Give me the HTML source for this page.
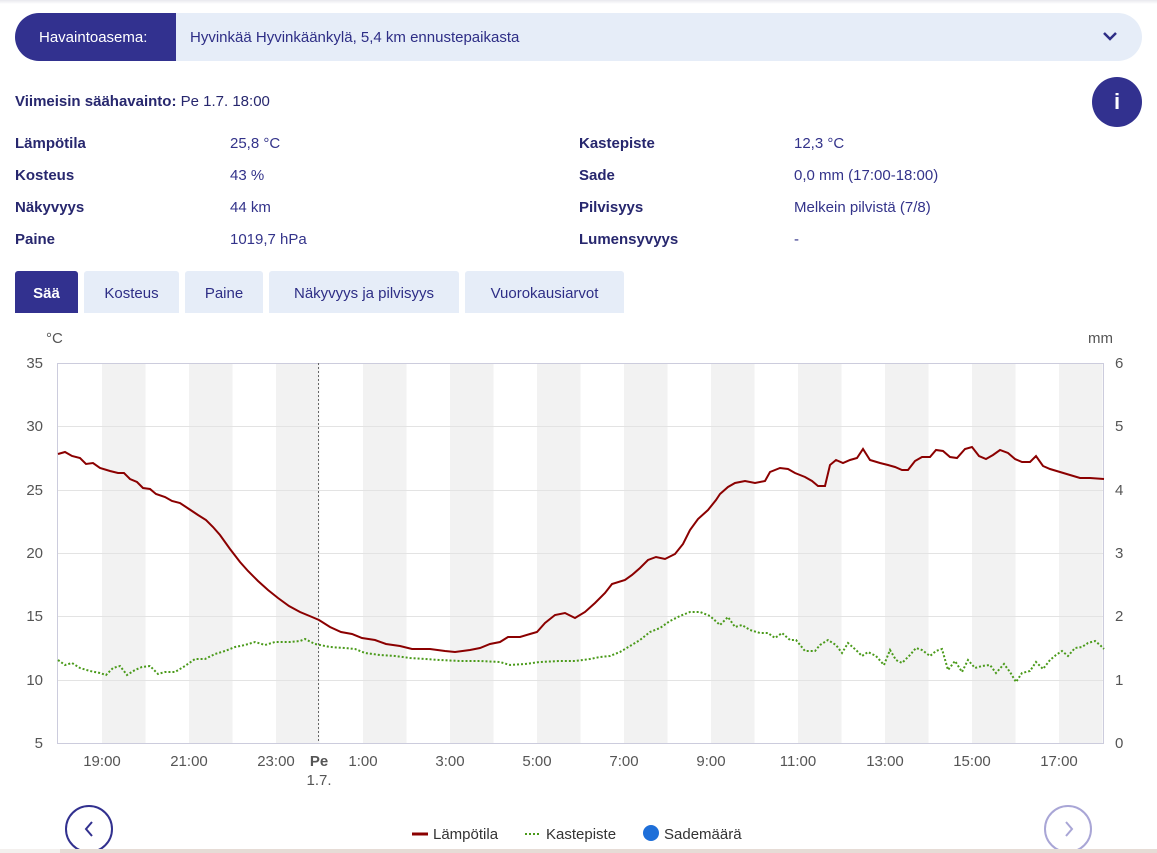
<!DOCTYPE html>
<html><head><meta charset="utf-8"><style>
body{margin:0;width:1157px;height:853px;overflow:hidden;background:#fff;font-family:"Liberation Sans",sans-serif;position:relative}
.a{position:absolute;white-space:nowrap}
.lb{font-weight:bold;color:#27276e;font-size:15px}
.v{color:#33338a;font-size:15px}
.tab{position:absolute;top:271px;height:42px;background:#e6edf8;color:#2e2e86;font-size:15px;line-height:46px;text-align:center;border-radius:3px 3px 0 0}
</style></head><body>
<div class="a" style="left:0;top:0;width:1157px;height:4px;background:linear-gradient(#e8e8ee,#fff)"></div>
<div class="a" style="left:15px;top:13px;width:1127px;height:48px;border-radius:24px;background:#e6edf8;overflow:hidden">
<div class="a" style="left:0;top:0;width:161px;height:48px;background:#32318f;color:#fff;font-size:15px;line-height:50px;text-indent:24px">Havaintoasema:</div>
<div class="a" style="left:175px;top:0;line-height:50px;font-size:15px;color:#2e2e86">Hyvinkää Hyvinkäänkylä, 5,4 km ennustepaikasta</div>
<svg class="a" style="left:1087px;top:17px" width="16" height="12"><path d="M2 3 L8 9 L14 3" stroke="#2e2e86" stroke-width="2.5" fill="none"/></svg>
</div>
<div class="a" style="left:15px;top:93px;font-size:15px;color:#27276e"><b>Viimeisin säähavainto:</b> Pe 1.7. 18:00</div>
<div class="a" style="left:1092px;top:77px;width:50px;height:50px;border-radius:25px;background:#32318f;color:#fff;font-weight:bold;font-size:22px;text-align:center;line-height:50px">i</div>
<div class="a lb" style="left:15px;top:135px">Lämpötila</div><div class="a v" style="left:230px;top:135px">25,8 °C</div>
<div class="a lb" style="left:15px;top:167px">Kosteus</div><div class="a v" style="left:230px;top:167px">43 %</div>
<div class="a lb" style="left:15px;top:199px">Näkyvyys</div><div class="a v" style="left:230px;top:199px">44 km</div>
<div class="a lb" style="left:15px;top:231px">Paine</div><div class="a v" style="left:230px;top:231px">1019,7 hPa</div>
<div class="a lb" style="left:579px;top:135px">Kastepiste</div><div class="a v" style="left:794px;top:135px">12,3 °C</div>
<div class="a lb" style="left:579px;top:167px">Sade</div><div class="a v" style="left:794px;top:167px">0,0 mm (17:00-18:00)</div>
<div class="a lb" style="left:579px;top:199px">Pilvisyys</div><div class="a v" style="left:794px;top:199px">Melkein pilvistä (7/8)</div>
<div class="a lb" style="left:579px;top:231px">Lumensyvyys</div><div class="a v" style="left:794px;top:231px">-</div>
<div class="tab" style="left:15px;width:63px;background:#32318f;color:#fff;font-weight:bold">Sää</div>
<div class="tab" style="left:84px;width:95px">Kosteus</div>
<div class="tab" style="left:185px;width:78px">Paine</div>
<div class="tab" style="left:269px;width:190px">Näkyvyys ja pilvisyys</div>
<div class="tab" style="left:465px;width:159px">Vuorokausiarvot</div>
<svg class="a" style="left:0;top:0" width="1157" height="853" font-family="Liberation Sans, sans-serif">
<g fill="#f2f2f2">
<rect x="102" y="363" width="43.5" height="380"/><rect x="189" y="363" width="43.5" height="380"/><rect x="276" y="363" width="43.5" height="380"/><rect x="363" y="363" width="43.5" height="380"/><rect x="450" y="363" width="43.5" height="380"/><rect x="537" y="363" width="43.5" height="380"/><rect x="624" y="363" width="43.5" height="380"/><rect x="711" y="363" width="43.5" height="380"/><rect x="798" y="363" width="43.5" height="380"/><rect x="885" y="363" width="43.5" height="380"/><rect x="972" y="363" width="43.5" height="380"/><rect x="1059" y="363" width="43.5" height="380"/>
</g>
<g stroke="#e3e3e3" stroke-width="1">
<line x1="58" x2="1104" y1="363.5" y2="363.5"/><line x1="58" x2="1104" y1="426.5" y2="426.5"/><line x1="58" x2="1104" y1="490.5" y2="490.5"/><line x1="58" x2="1104" y1="553.5" y2="553.5"/><line x1="58" x2="1104" y1="616.5" y2="616.5"/><line x1="58" x2="1104" y1="680.5" y2="680.5"/>
</g>
<rect x="57.5" y="363.5" width="1046" height="380" fill="none" stroke="#ccd" />
<line x1="318.5" x2="318.5" y1="363" y2="743" stroke="#666" stroke-dasharray="2,2"/>
<g font-size="15" fill="#555" text-anchor="end">
<text x="43" y="368">35</text><text x="43" y="431">30</text><text x="43" y="495">25</text><text x="43" y="558">20</text><text x="43" y="621">15</text><text x="43" y="685">10</text><text x="43" y="748">5</text>
</g>
<g font-size="15" fill="#555">
<text x="1115" y="368">6</text><text x="1115" y="431">5</text><text x="1115" y="495">4</text><text x="1115" y="558">3</text><text x="1115" y="621">2</text><text x="1115" y="685">1</text><text x="1115" y="748">0</text>
<text x="46" y="343">°C</text><text x="1088" y="343">mm</text>
</g>
<g font-size="15" fill="#555" text-anchor="middle">
<text x="102" y="766">19:00</text><text x="189" y="766">21:00</text><text x="276" y="766">23:00</text><text x="319" y="766" font-weight="bold">Pe</text><text x="319" y="785">1.7.</text><text x="363" y="766">1:00</text><text x="450" y="766">3:00</text><text x="537" y="766">5:00</text><text x="624" y="766">7:00</text><text x="711" y="766">9:00</text><text x="798" y="766">11:00</text><text x="885" y="766">13:00</text><text x="972" y="766">15:00</text><text x="1059" y="766">17:00</text>
</g>
<polyline fill="none" stroke="#4a9a1a" stroke-width="2" stroke-dasharray="2,2" points="58,660 65,665 72,663 80,668 90,671 100,673 106,675 113,668 120,666 127,675 135,670 142,667 150,666 158,674 165,672 175,672 185,666 195,659 205,659 215,654 225,651 235,647 245,645 255,642 265,645 275,642 290,642 300,641 305,639 315,644 330,647 345,648 355,649 365,653 380,655 395,656 410,658 425,659 440,660 460,661 480,661 500,662 510,665 525,664 540,662 560,661 575,661 590,659 600,657 610,656 620,652 630,646 640,640 650,632 660,628 670,621 680,616 690,612 700,612 710,616 720,625 728,617 735,627 742,625 750,630 760,633 768,633 775,638 782,633 790,640 796,640 805,651 815,651 820,645 828,640 836,645 842,653 848,643 856,650 862,656 868,652 876,656 884,665 890,650 896,660 902,663 910,655 916,648 922,650 930,656 936,651 942,649 948,670 955,661 962,672 968,660 975,668 982,666 990,665 996,673 1004,664 1010,672 1016,682 1022,673 1030,671 1036,662 1043,669 1050,660 1056,655 1062,651 1068,656 1075,648 1082,647 1088,643 1095,641 1100,645 1104,649"/>
<polyline fill="none" stroke="#8b0000" stroke-width="2" points="58,454 65,452 72,456 80,458 86,464 93,463 100,468 110,471 118,473 124,473 130,479 137,482 143,488 150,489 156,494 165,497 172,501 180,503 189,509 198,515 206,520 213,527 220,535 230,549 240,562 248,571 258,581 268,590 278,598 289,606 300,612 312,617 319,620 330,627 341,632 352,634 362,638 375,640 386,644 400,646 412,649 430,649 445,651 455,652 470,650 480,648 490,644 500,642 508,637 520,637 530,634 537,632 545,623 555,615 565,613 575,618 585,612 595,603 605,593 612,584 625,580 632,575 640,568 648,560 656,557 665,559 675,554 683,544 690,530 698,519 708,510 716,500 720,494 728,487 735,483 745,481 755,483 765,481 770,472 780,468 788,469 795,473 805,477 812,481 818,486 825,486 830,465 836,460 843,463 850,460 857,458 863,449 870,460 880,463 888,465 895,467 902,470 908,470 915,461 922,457 930,457 936,450 943,451 950,457 957,458 965,449 972,447 979,456 986,459 993,455 1000,450 1008,453 1015,459 1022,462 1030,462 1036,456 1043,466 1050,469 1060,472 1070,475 1080,478 1090,478 1104,479"/>
<circle cx="89" cy="829" r="23" fill="#fff" stroke="#32318f" stroke-width="2"/>
<path d="M92 822 L86 829 L92 836" stroke="#32318f" stroke-width="2" fill="none"/>
<circle cx="1068" cy="829" r="23" fill="#fff" stroke="#a9a6d6" stroke-width="2"/>
<path d="M1066 822 L1072 829 L1066 836" stroke="#a9a6d6" stroke-width="2" fill="none"/>
<line x1="412" x2="428" y1="834" y2="834" stroke="#8b0000" stroke-width="3"/>
<text x="433" y="839" font-size="15" fill="#333">Lämpötila</text>
<line x1="525" x2="541" y1="834" y2="834" stroke="#4a9a1a" stroke-width="2" stroke-dasharray="2,2"/>
<text x="546" y="839" font-size="15" fill="#333">Kastepiste</text>
<circle cx="651" cy="833" r="8" fill="#1e6fd9"/>
<text x="664" y="839" font-size="15" fill="#333">Sademäärä</text>
<rect x="0" y="849" width="1157" height="4" fill="#e6dcd6"/>
<rect x="0" y="849" width="60" height="4" fill="#f3f0ee"/>
</svg>
</body></html>
